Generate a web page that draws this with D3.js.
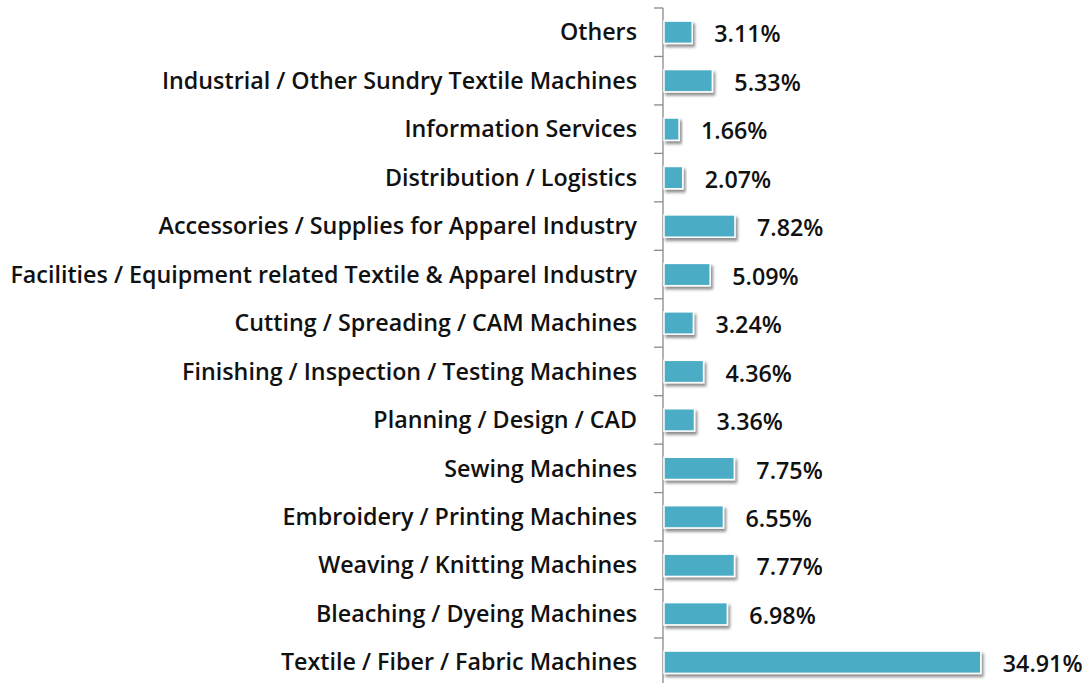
<!DOCTYPE html>
<html>
<head>
<meta charset="utf-8">
<script src="https://cdn.jsdelivr.net/npm/d3@7"></script>
<style>
  body { margin: 0; background: #fff; }
  text { font-family: "Open Sans", "Noto Sans", sans-serif; font-weight: 600; fill: #111; }
</style>
</head>
<body>
<script>
// categories from top to bottom
let categories = [
  "Others",
  "Industrial / Other Sundry Textile Machines",
  "Information Services",
  "Distribution / Logistics",
  "Accessories / Supplies for Apparel Industry",
  "Facilities / Equipment related Textile & Apparel Industry",
  "Cutting / Spreading / CAM Machines",
  "Finishing / Inspection / Testing Machines",
  "Planning / Design / CAD",
  "Sewing Machines",
  "Embroidery / Printing Machines",
  "Weaving / Knitting Machines",
  "Bleaching / Dyeing Machines",
  "Textile / Fiber / Fabric Machines"
];
let shares = [3.11, 5.33, 1.66, 2.07, 7.82, 5.09, 3.24, 4.36, 3.36, 7.75, 6.55, 7.77, 6.98, 34.91];

var width = 1089, height = 683;

var svg = d3.select("body").append("svg")
    .attr("width", width)
    .attr("height", height);

// soft drop shadow under the bars
var defs = svg.append("defs");
var f = defs.append("filter").attr("id", "shadow")
    .attr("x", "-10%").attr("y", "-30%").attr("width", "130%").attr("height", "190%");
f.append("feGaussianBlur").attr("in", "SourceAlpha").attr("stdDeviation", 1.6);
f.append("feOffset").attr("dx", 2).attr("dy", 3).attr("result", "blur");
f.append("feComponentTransfer").append("feFuncA").attr("type", "linear").attr("slope", 0.45);
var merge = f.append("feMerge");
merge.append("feMergeNode");
merge.append("feMergeNode").attr("in", "SourceGraphic");

var axisX = 663;

var y = d3.scaleBand()
    .domain(categories)
    .range([8, 8 + categories.length * 48.46])
    .padding(0);

var x = d3.scaleLinear()
    .domain([0, 40])
    .range([axisX + 1, axisX + 1 + 363]);

// category axis
var yAxis = d3.axisLeft(y).tickSize(0).tickPadding(26);
var gAxis = svg.append("g")
    .attr("transform", "translate(" + axisX + ",0)")
    .call(yAxis);
gAxis.select(".domain").remove();
gAxis.selectAll("text")
    .style("font-size", "20px")
    .attr("dy", "0.35em");

// fit: the longest label should span about 627px
var longest = gAxis.selectAll("text").filter(function(d) { return d === categories[5]; });
var w = longest.node().getComputedTextLength();
var k = 627 / w;
gAxis.selectAll("text").style("font-size", (20 * k) + "px");

// axis line and boundary ticks
svg.append("line")
    .attr("x1", axisX).attr("x2", axisX)
    .attr("y1", y.range()[0]).attr("y2", height)
    .attr("stroke", "#8a8a8a").attr("stroke-width", 1.3);

var bounds = categories.map(function(c) { return y(c); });
bounds.push(y.range()[1]);
svg.selectAll("line.tick-b")
    .data(bounds)
  .enter().append("line")
    .attr("class", "tick-b")
    .attr("x1", axisX - 9).attr("x2", axisX)
    .attr("y1", function(d) { return d; })
    .attr("y2", function(d) { return d; })
    .attr("stroke", "#8a8a8a").attr("stroke-width", 1.3);

var barH = y.bandwidth() * 0.46;

var rows = categories.map(function(c, i) { return {cat: c, val: shares[i]}; });

svg.selectAll("rect.bar")
    .data(rows)
  .enter().append("rect")
    .attr("class", "bar")
    .attr("x", x(0))
    .attr("y", function(d) { return y(d.cat) + (y.bandwidth() - barH) / 2; })
    .attr("width", function(d) { return x(d.val) - x(0); })
    .attr("height", barH)
    .attr("fill", "#4bacc6")
    .attr("stroke", "#ffffff")
    .attr("stroke-width", 1.5)
    .attr("filter", "url(#shadow)");

svg.selectAll("text.val")
    .data(rows)
  .enter().append("text")
    .attr("class", "val")
    .attr("x", function(d) { return x(d.val) + 22; })
    .attr("y", function(d) { return y(d.cat) + y.bandwidth() / 2 + 2; })
    .attr("dy", "0.35em")
    .style("font-size", (20 * k) + "px")
    .text(function(d) { return d.val.toFixed(2) + "%"; });
</script>
</body>
</html>
